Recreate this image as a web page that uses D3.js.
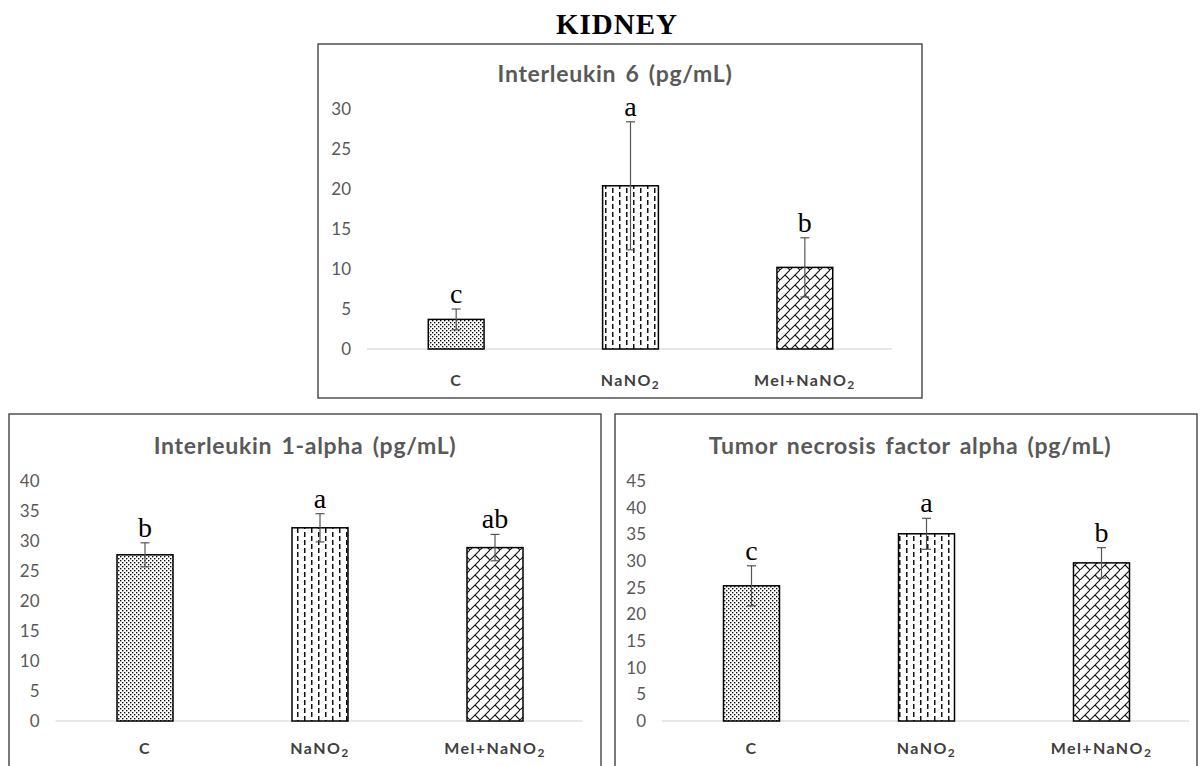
<!DOCTYPE html>
<html>
<head>
<meta charset="utf-8">
<script src="https://cdn.jsdelivr.net/npm/d3@7/dist/d3.min.js"></script>
<style>
  html, body { margin: 0; padding: 0; background: #fff; }
  svg { display: block; }
</style>
</head>
<body>
<svg id="chart" width="1200" height="766"></svg>
<script>
// ---------- DATA ----------
const categories = ["C", "NaNO2", "Mel+NaNO2"];

const il6Values  = [3.7, 20.4, 10.2];
const il6Errors  = [1.3, 8.0, 3.7];
const il6Letters = ["c", "a", "b"];
const il6Ticks   = [0, 5, 10, 15, 20, 25, 30];

const il1Values  = [27.7, 32.2, 28.9];
const il1Errors  = [2.0, 2.35, 2.2];
const il1Letters = ["b", "a", "ab"];
const il1Ticks   = [0, 5, 10, 15, 20, 25, 30, 35, 40];

const tnfValues  = [25.35, 35.1, 29.65];
const tnfErrors  = [3.75, 2.9, 2.85];
const tnfLetters = ["c", "a", "b"];
const tnfTicks   = [0, 5, 10, 15, 20, 25, 30, 35, 40, 45];

const mainTitle = "KIDNEY";
const panelTitles = ["Interleukin 6 (pg/mL)", "Interleukin 1-alpha (pg/mL)", "Tumor necrosis factor alpha (pg/mL)"];

// ---------- LAYOUT ----------
const svg = d3.select("#chart");
const defs = svg.append("defs");

// patterns
const pDots = defs.append("pattern").attr("id", "pDots").attr("patternUnits", "userSpaceOnUse")
  .attr("width", 4).attr("height", 4);
pDots.append("rect").attr("width", 4).attr("height", 4).attr("fill", "#fff");
pDots.append("rect").attr("x", 0).attr("y", 0).attr("width", 1.4).attr("height", 1.4).attr("fill", "#111");
pDots.append("rect").attr("x", 2).attr("y", 2).attr("width", 1.4).attr("height", 1.4).attr("fill", "#111");

const pDash = defs.append("pattern").attr("id", "pDash").attr("patternUnits", "userSpaceOnUse")
  .attr("width", 14).attr("height", 8);
pDash.append("rect").attr("width", 14).attr("height", 8).attr("fill", "#fff");
pDash.append("rect").attr("x", 3).attr("y", 0).attr("width", 1.5).attr("height", 5).attr("fill", "#111");
pDash.append("rect").attr("x", 10).attr("y", 4).attr("width", 1.5).attr("height", 5).attr("fill", "#111");
pDash.append("rect").attr("x", 10).attr("y", -4).attr("width", 1.5).attr("height", 5).attr("fill", "#111");

const pBrick = defs.append("pattern").attr("id", "pBrick").attr("patternUnits", "userSpaceOnUse")
  .attr("width", 10).attr("height", 10);
pBrick.append("rect").attr("width", 10).attr("height", 10).attr("fill", "#fff");
pBrick.append("path").attr("d", "M-1,11 L11,-1 M5,5 L10,10 M-5,5 L0,10 M5,-5 L10,0")
  .attr("stroke", "#111").attr("stroke-width", 1.1).attr("fill", "none");

const fills = ["url(#pDots)", "url(#pDash)", "url(#pBrick)"];

const panels = [
  { box: [318, 44, 922, 398], px: [369, 892], py: [349, 109], max: 30, ticks: il6Ticks,
    values: il6Values, errors: il6Errors, letters: il6Letters, title: panelTitles[0],
    titleX: 615, titleY: 82, catY: 386 },
  { box: [9, 414, 601, 780], px: [57.5, 582.5], py: [721, 481], max: 40, ticks: il1Ticks,
    values: il1Values, errors: il1Errors, letters: il1Letters, title: panelTitles[1],
    titleX: 305, titleY: 454, catY: 754 },
  { box: [615, 414, 1197, 780], px: [664, 1189], py: [721, 481], max: 45, ticks: tnfTicks,
    values: tnfValues, errors: tnfErrors, letters: tnfLetters, title: panelTitles[2],
    titleX: 910, titleY: 454, catY: 754 }
];

svg.append("text").attr("x", 617).attr("y", 34).attr("text-anchor", "middle")
  .attr("font-family", "'Liberation Serif', 'Times New Roman', serif")
  .attr("font-weight", "bold").attr("font-size", 29).attr("letter-spacing", 1)
  .attr("fill", "#000").text(mainTitle);

panels.forEach(p => {
  const g = svg.append("g");
  const [bx0, by0, bx1, by1] = p.box;
  g.append("rect").attr("x", bx0).attr("y", by0).attr("width", bx1 - bx0).attr("height", by1 - by0)
    .attr("fill", "#fff").attr("stroke", "#505050").attr("stroke-width", 1.5);

  const x = d3.scaleBand().domain(categories).range(p.px).paddingInner(0.68).paddingOuter(0.34);
  const y = d3.scaleLinear().domain([0, p.max]).range(p.py);

  // title
  g.append("text").attr("x", p.titleX).attr("y", p.titleY)
    .attr("text-anchor", "middle").attr("font-family", "Lato, 'Open Sans', sans-serif")
    .attr("font-weight", "bold").attr("font-size", 23).attr("letter-spacing", 0.7)
    .attr("word-spacing", 3).attr("fill", "#595959").text(p.title);

  // y axis
  const yAxis = d3.axisLeft(y).tickValues(p.ticks).tickSize(0).tickPadding(18);
  const ya = g.append("g").attr("transform", `translate(${p.px[0]},0)`).call(yAxis);
  ya.select(".domain").remove();
  ya.selectAll("text").attr("font-family", "Lato, 'Open Sans', sans-serif")
    .attr("font-size", 17).attr("fill", "#595959");

  // baseline
  g.append("line").attr("x1", p.px[0] - 2).attr("x2", p.px[1]).attr("y1", y(0)).attr("y2", y(0))
    .attr("stroke", "#d0d0d0").attr("stroke-width", 1);

  // bars
  g.selectAll(".bar").data(categories).join("rect")
    .attr("x", d => x(d)).attr("width", x.bandwidth())
    .attr("y", (d, i) => y(p.values[i])).attr("height", (d, i) => y(0) - y(p.values[i]))
    .attr("fill", (d, i) => fills[i]).attr("stroke", "#000").attr("stroke-width", 1.5);

  // error bars
  const eg = g.append("g").attr("stroke", "#555").attr("stroke-width", 1.2);
  categories.forEach((c, i) => {
    const cx = x(c) + x.bandwidth() / 2;
    const hi = y(p.values[i] + p.errors[i]);
    const lo = y(p.values[i] - p.errors[i]);
    eg.append("line").attr("x1", cx).attr("x2", cx).attr("y1", hi).attr("y2", lo);
    eg.append("line").attr("x1", cx - 4.5).attr("x2", cx + 4.5).attr("y1", hi).attr("y2", hi);
    eg.append("line").attr("x1", cx - 4.5).attr("x2", cx + 4.5).attr("y1", lo).attr("y2", lo);
    g.append("text").attr("x", cx).attr("y", hi - 6).attr("text-anchor", "middle")
      .attr("font-family", "'Liberation Serif', 'Times New Roman', serif")
      .attr("font-size", 28).attr("fill", "#000").text(p.letters[i]);
  });

  // category labels
  categories.forEach(c => {
    const cx = x(c) + x.bandwidth() / 2;
    const t = g.append("text").attr("x", cx).attr("y", p.catY).attr("text-anchor", "middle")
      .attr("font-family", "Lato, 'Open Sans', sans-serif").attr("font-weight", "bold")
      .attr("font-size", 16).attr("letter-spacing", 1.4).attr("fill", "#404040");
    const m = c.match(/^(.*?)(\d)$/);
    if (m) {
      t.append("tspan").text(m[1]);
      t.append("tspan").attr("font-size", 12).attr("dy", 3).text(m[2]);
    } else {
      t.text(c);
    }
  });
});
</script>
</body>
</html>
